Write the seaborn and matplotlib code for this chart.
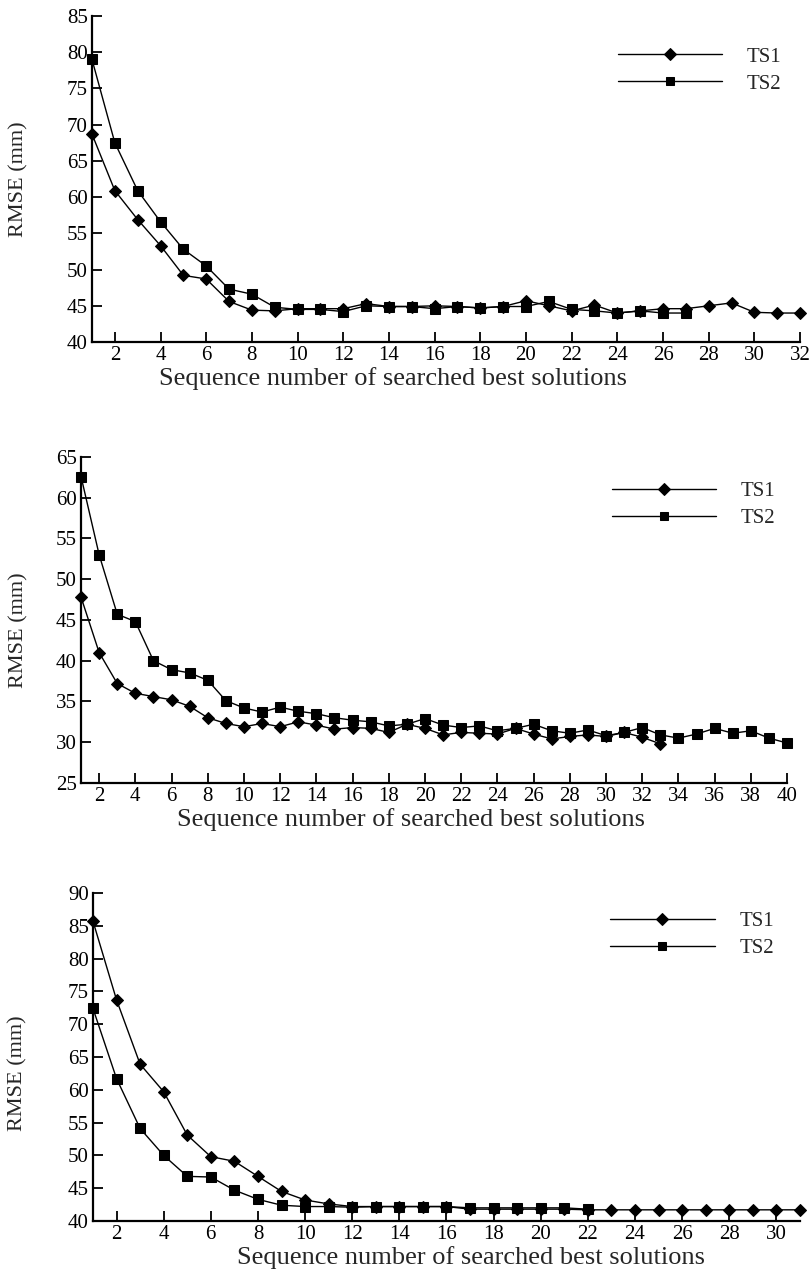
import matplotlib
matplotlib.use("Agg")
import matplotlib.pyplot as plt
import seaborn as sns
import pandas as pd

sns.set_theme(style="ticks")
plt.rcParams['font.family'] = ['Liberation Serif', 'DejaVu Serif']

# ---- Panel 1 data ----
p1_ts1_x = list(range(1, 33))
p1_ts1 = [68.7, 60.9, 56.9, 53.3, 49.2, 48.7, 45.6, 44.4, 44.3, 44.6, 44.6, 44.6,
          45.3, 44.9, 44.9, 45.0, 44.9, 44.7, 44.9, 45.7, 45.0, 44.3, 45.1, 44.0,
          44.3, 44.6, 44.6, 45.0, 45.4, 44.1, 44.0, 44.0]
p1_ts2_x = list(range(1, 28))
p1_ts2 = [79.0, 67.5, 60.9, 56.6, 52.8, 50.5, 47.3, 46.6, 44.8, 44.5, 44.5, 44.2,
          45.0, 44.9, 44.9, 44.6, 44.9, 44.7, 44.9, 44.9, 45.6, 44.5, 44.3, 44.0,
          44.3, 44.0, 44.0]
p1_xticks = list(range(2, 33, 2))
p1_yticks = list(range(40, 86, 5))

# ---- Panel 2 data ----
p2_ts1_x = list(range(1, 34))
p2_ts1 = [47.8, 41.0, 37.2, 36.0, 35.6, 35.2, 34.4, 33.0, 32.3, 31.9, 32.3, 31.9,
          32.5, 32.1, 31.6, 31.8, 31.7, 31.2, 32.2, 31.7, 30.9, 31.2, 31.1, 31.0,
          31.7, 31.0, 30.4, 30.7, 30.9, 30.7, 31.2, 30.6, 29.8]
p2_ts2_x = list(range(1, 41))
p2_ts2 = [62.6, 53.0, 45.7, 44.8, 40.0, 38.9, 38.5, 37.6, 35.1, 34.2, 33.7, 34.3,
          33.8, 33.5, 33.0, 32.7, 32.5, 32.0, 32.2, 32.9, 32.1, 31.8, 32.0, 31.4,
          31.7, 32.2, 31.4, 31.1, 31.5, 30.8, 31.2, 31.8, 30.9, 30.5, 31.0, 31.7,
          31.1, 31.4, 30.5, 29.9]
p2_xticks = list(range(2, 41, 2))
p2_yticks = list(range(25, 66, 5))

# ---- Panel 3 data ----
p3_ts1_x = list(range(1, 32))
p3_ts1 = [85.7, 73.7, 63.9, 59.7, 53.1, 49.8, 49.1, 46.8, 44.5, 43.2, 42.6, 42.2,
          42.2, 42.2, 42.2, 42.2, 41.8, 41.8, 41.8, 41.8, 41.8, 41.7, 41.7, 41.7,
          41.7, 41.7, 41.7, 41.7, 41.7, 41.7, 41.7]
p3_ts2_x = list(range(1, 23))
p3_ts2 = [72.4, 61.7, 54.1, 50.0, 46.8, 46.7, 44.7, 43.3, 42.4, 42.2, 42.2, 42.1,
          42.2, 42.2, 42.2, 42.2, 42.0, 42.0, 42.0, 42.0, 42.0, 41.8]
p3_xticks = list(range(2, 31, 2))
p3_yticks = list(range(40, 91, 5))

series_names = ["TS1", "TS2"]
xlabel = "Sequence number of searched best solutions"
ylabel = "RMSE (mm)"

panels = [
    dict(ts1x=p1_ts1_x, ts1=p1_ts1, ts2x=p1_ts2_x, ts2=p1_ts2, xt=p1_xticks, yt=p1_yticks,
         xlim=(1, 32), ylim=(40, 85), rect=[0.1133, 0.7307, 0.872, 0.2567],
         xl=(0.425, -0.078), yl=(-0.090, 0.5), leg=(1.0, 0.962)),
    dict(ts1x=p2_ts1_x, ts1=p2_ts1, ts2x=p2_ts2_x, ts2=p2_ts2, xt=p2_xticks, yt=p2_yticks,
         xlim=(1, 40), ylim=(25, 65), rect=[0.0998, 0.3835, 0.8695, 0.2567],
         xl=(0.467, -0.078), yl=(-0.075, 0.47), leg=(1.01, 0.982)),
    dict(ts1x=p3_ts1_x, ts1=p3_ts1, ts2x=p3_ts2_x, ts2=p3_ts2, xt=p3_xticks, yt=p3_yticks,
         xlim=(1, 31), ylim=(40, 90), rect=[0.1145, 0.0386, 0.8707, 0.2583],
         xl=(0.535, -0.077), yl=(-0.092, 0.45), leg=(0.99, 1.0)),
]

fig = plt.figure(figsize=(8.12, 12.7), dpi=100)

for p in panels:
    ax = fig.add_axes(p["rect"])
    df = pd.concat([
        pd.DataFrame({"seq": p["ts1x"], "rmse": p["ts1"], "series": series_names[0]}),
        pd.DataFrame({"seq": p["ts2x"], "rmse": p["ts2"], "series": series_names[1]}),
    ], ignore_index=True)
    sns.lineplot(data=df, x="seq", y="rmse", style="series",
                 markers={"TS1": "D", "TS2": "s"}, dashes=False,
                 color="black", linewidth=1.0, markersize=6.5,
                 markeredgecolor="black", ax=ax, clip_on=False)
    ax.set_xlim(*p["xlim"])
    ax.set_ylim(*p["ylim"])
    ax.set_xticks(p["xt"])
    ax.set_yticks(p["yt"])
    sns.despine(ax=ax)
    for s in ["left", "bottom"]:
        ax.spines[s].set_linewidth(1.6)
        ax.spines[s].set_color("black")
    ax.tick_params(direction="in", length=7, width=1.3, labelsize=15, colors="black", pad=3)
    ax.set_xlabel(xlabel, fontsize=19)
    ax.set_ylabel(ylabel, fontsize=16)
    ax.xaxis.set_label_coords(*p["xl"])
    ax.yaxis.set_label_coords(*p["yl"])
    leg = ax.legend(loc="upper right", frameon=False, fontsize=15, handlelength=5.0,
                    handletextpad=1.2, labelspacing=0.35, bbox_to_anchor=p["leg"])
    for h in leg.legend_handles:
        h.set_color("black")
        h.set_linewidth(1.0)
        h.set_markersize(6)

fig.savefig("out.png", dpi=100)
